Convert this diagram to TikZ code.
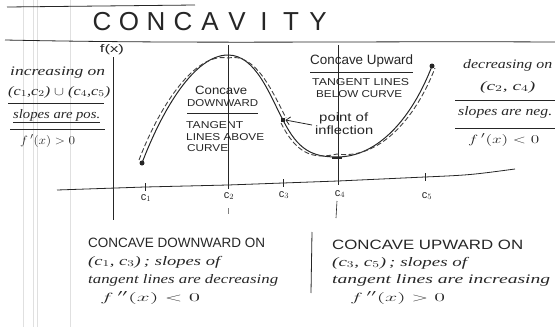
\documentclass[tikz,border=0pt]{standalone}
\usepackage{fontspec}
\usepackage{graphicx}
\setmainfont{Liberation Sans}
\newfontfamily\cursive{Liberation Serif}
\usetikzlibrary{arrows.meta}
\newcommand{\fw}[2]{\resizebox{#1pt}{\height}{#2}}
\tikzset{
  ink/.style={draw=black!85, line width=0.8pt},
  faint/.style={draw=black!12, line width=0.6pt},
  caps/.style={anchor=west, inner sep=0pt, text=black!85, font=\fontsize{12}{13}\selectfont},
  smallcaps/.style={anchor=west, inner sep=0pt, text=black!85, font=\fontsize{10}{11}\selectfont},
  bigcaps/.style={anchor=west, inner sep=0pt, text=black!85, font=\fontsize{13.5}{14}\selectfont},
  curs/.style={anchor=west, inner sep=0pt, text=black!85, font=\cursive\itshape\fontsize{13}{14}\selectfont},
  mathtxt/.style={anchor=west, inner sep=0pt, text=black!85, font=\fontsize{13}{14}\selectfont},
  clabel/.style={inner sep=0pt, text=black!85, font=\fontsize{11}{12}\selectfont},
  titlech/.style={inner sep=0pt, text=black!85, font=\fontsize{26}{28}\selectfont},
  tick/.style={ink, line width=0.7pt},
  dot/.style={circle, fill=black!85, inner sep=0pt, minimum size=5pt},
  tang/.style={draw=black!75, line width=0.9pt, dash pattern=on 5pt off 2.5pt},
}
\begin{document}
\begin{tikzpicture}[x=1pt, y=-1pt]
\useasboundingbox (0,0) rectangle (555,327);
% paper margin lines
\draw[faint] (23,0) -- (23,327);
\draw[faint] (33,0) -- (33,327);
\draw[faint] (37,0) -- (37,327);
\draw[faint] (70,0) -- (70,327);
% title and rules
\coordinate (tl1) at (7,7);
\coordinate (tl2) at (195,5);
\draw[ink] (tl1) -- (tl2);
\coordinate (ul1) at (5,40);
\coordinate (ul2) at (555,42);
\draw[ink] (ul1) .. controls (200,44) and (350,41) .. (ul2);
\foreach \ch [count=\i from 0] in {C,O,N,C,A,V,I,T,Y}
  \node[titlech] (t\i) at (102+27*\i, 22) {\ch};

% left block
\node[curs] (inc) at (10,73) {\fw{95}{increasing on}};
\node[curs] (incint) at (8,92) {\fw{102}{(c$_1$,c$_2$) $\cup$ (c$_4$,c$_5$)}};
\coordinate (la1) at (8,103); \coordinate (la2) at (104,103);
\draw[ink] (la1) -- (la2);
\node[curs] (pos) at (13,116) {\fw{87}{\underline{slopes are pos.}}};
\coordinate (lb1) at (10,129); \coordinate (lb2) at (105,129);
\draw[ink] (lb1) -- (lb2);
\node[mathtxt] (fp) at (20,141) {\fw{55}{$f\,'(x) > 0$}};

% right block
\node[curs] (dec) at (463,65) {\fw{89}{decreasing on}};
\node[curs] (decint) at (480,87) {\fw{55}{(c$_2$, c$_4$)}};
\coordinate (ra1) at (455,100); \coordinate (ra2) at (555,100);
\draw[ink] (ra1) -- (ra2);
\node[curs] (neg) at (458,112) {\fw{94}{slopes are neg.}};
\coordinate (rb1) at (455,128); \coordinate (rb2) at (555,128);
\draw[ink] (rb1) -- (rb2);
\node[mathtxt] (fn) at (468,140) {\fw{71}{$f\,'(x) < 0$}};

% axes
\node[clabel] (fx) at (112,50) {\fw{24}{f(x)}};
\coordinate (yt) at (113,57);
\coordinate (yb) at (113,220);
\draw[ink] (yt) -- (yb);
\coordinate (xl) at (57,190);
\coordinate (c1) at (145,187);
\coordinate (c2) at (228,185);
\coordinate (c3) at (283,183);
\coordinate (c4) at (338,181);
\coordinate (c5) at (425,177);
\coordinate (xr) at (515,169);
\draw[ink] (xl) -- (c1) -- (c2) -- (c3) -- (c4) -- (c5) .. controls (470,175) .. (xr);
\foreach \c in {c1,c2,c3,c4,c5}
  \draw[tick] ([yshift=4pt]\c) -- ([yshift=-4pt]\c);
\node[clabel] (lc1) at (146,198) {c$_1$};
\node[clabel] (lc2) at (229,196) {c$_2$};
\node[clabel] (lc3) at (284,195) {c$_3$};
\node[clabel] (lc4) at (340,194) {c$_4$};
\node[clabel] (lc5) at (427,196) {c$_5$};

% verticals through c2 and c4
\coordinate (v2t) at (228,45);
\coordinate (v4t) at (338,45);
\draw[ink, line width=0.6pt] (v2t) -- (c2);
\draw[ink, line width=0.6pt] (v4t) -- (c4);
\coordinate (v2a) at (228,208); \coordinate (v2b) at (228,214);
\draw[ink, draw=black!50, line width=0.6pt] (v2a) -- (v2b);
\coordinate (v4a) at (337,201); \coordinate (v4b) at (336,218);
\draw[ink, line width=0.6pt] (v4a) -- (v4b);

% curve
\coordinate (p0) at (142,163);
\coordinate (pk) at (228,55);
\coordinate (pi) at (283,120);
\coordinate (pm) at (337,157);
\coordinate (pe) at (432,66);
\draw[ink, line width=1pt] (p0) .. controls (163,108) and (195,55) .. (pk)
  .. controls (256,55) and (270,96) .. (pi)
  .. controls (298,150) and (312,157) .. (pm)
  .. controls (378,157) and (412,118) .. (pe);
% tangent dashes
\draw[tang] ([shift={(-3,-3)}]p0) .. controls ([shift={(-3,-3)}]163,108) and (195,52) .. ([yshift=-3pt]pk)
  .. controls (256,52) and ([shift={(3,-3)}]270,96) .. ([shift={(3,-2)}]pi);
\draw[tang] ([shift={(-2,3)}]pi) .. controls ([shift={(-2,3)}]298,150) and (312,160) .. ([yshift=3pt]pm)
  .. controls (378,160) and ([shift={(3,2)}]412,118) .. ([shift={(3,2)}]pe);
\node[dot] (d0) at (p0) {};
\node[dot, rectangle, minimum size=4.5pt] (di) at (pi) {};
\node[dot] (de) at (pe) {};
\coordinate (mm1) at (332,158); \coordinate (mm2) at (342,158);
\draw[ink, line width=1.4pt] (mm1) -- (mm2);

% graph annotations
\node[caps] (cd1) at (195,90) {\fw{52}{Concave}};
\node[smallcaps] (cd2) at (187,103) {\fw{71}{DOWNWARD}};
\coordinate (cdu1) at (187,113); \coordinate (cdu2) at (258,113);
\draw[ink] (cdu1) -- (cdu2);
\node[smallcaps] (ta1) at (186,125) {\fw{57}{TANGENT}};
\node[smallcaps] (ta2) at (186,137) {\fw{78}{LINES ABOVE}};
\node[smallcaps] (ta3) at (187,148) {\fw{41}{CURVE}};

\node[bigcaps] (cu1) at (310,61) {\fw{103}{Concave Upward}};
\coordinate (cuu1) at (310,72); \coordinate (cuu2) at (413,72);
\draw[ink] (cuu1) -- (cuu2);
\node[smallcaps] (tb1) at (312,82) {\fw{97}{TANGENT LINES}};
\node[smallcaps] (tb2) at (316,94) {\fw{86}{BELOW CURVE}};

\node[caps] (inf1) at (319,118) {\fw{49}{point of}};
\node[caps] (inf2) at (315,130) {\fw{58}{inflection}};
\coordinate (as) at (312,125);
\draw[ink, -{Straight Barb[length=4pt]}] (as) -- (di.east);

% bottom blocks
\node[bigcaps] (bd1) at (88,243) {\fw{177}{CONCAVE DOWNWARD ON}};
\node[curs] (bd2) at (88,262) {\fw{132}{(c$_1$, c$_3$)\,; slopes of}};
\node[curs] (bd3) at (88,280) {\fw{190}{tangent lines are decreasing}};
\node[mathtxt] (bd4) at (100,298) {\fw{100}{$f\,''(x) < 0$}};
\coordinate (div1) at (312,232); \coordinate (div2) at (311,293);
\draw[ink] (div1) -- (div2);
\node[bigcaps] (bu1) at (332,245) {\fw{191}{CONCAVE UPWARD ON}};
\node[curs] (bu2) at (332,263) {\fw{135}{(c$_3$, c$_5$)\,; slopes of}};
\node[curs] (bu3) at (332,280) {\fw{218}{tangent lines are increasing}};
\node[mathtxt] (bu4) at (350,298) {\fw{95}{$f\,''(x) > 0$}};
\end{tikzpicture}
\end{document}
